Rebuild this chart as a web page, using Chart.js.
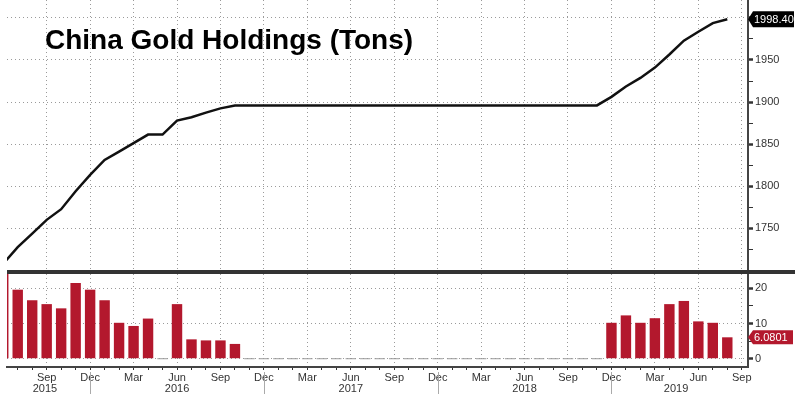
<!DOCTYPE html>
<html>
<head>
<meta charset="utf-8">
<script src="https://cdn.jsdelivr.net/npm/chart.js@4.4.0/dist/chart.umd.min.js"></script>
<style>
html, body { margin: 0; padding: 0; background: #fff; }
#wrap { position: relative; width: 800px; height: 394px; overflow: hidden; }
#top { position: absolute; left: 0; top: 0; }
#bot { position: absolute; left: 0; top: 274px; }
</style>
</head>
<body>
<div id="wrap">
  <canvas id="top" width="800" height="274"></canvas>
  <canvas id="bot" width="800" height="120"></canvas>
</div>
<script>
// month index 0 = Jun 2015, 50 = Aug 2019
const firstYear = 2015, firstMonth = 5;
const monthNames = ['Jan','Feb','Mar','Apr','May','Jun','Jul','Aug','Sep','Oct','Nov','Dec'];

// PBOC gold holdings, tons (line)
const goldTons = [
  1708.0, 1727.5, 1743.7, 1760.0, 1772.7, 1794.0, 1813.4, 1831.2, 1841.1, 1851.1,
  1861.3, 1861.3, 1877.9, 1881.9, 1887.5, 1892.5, 1896.0,
  1896.0, 1896.0, 1896.0, 1896.0, 1896.0, 1896.0, 1896.0, 1896.0, 1896.0, 1896.0,
  1896.0, 1896.0, 1896.0, 1896.0, 1896.0, 1896.0, 1896.0, 1896.0, 1896.0, 1896.0,
  1896.0, 1896.0, 1896.0, 1896.0, 1896.0,
  1906.2, 1918.5, 1928.7, 1941.0, 1956.5, 1973.0, 1983.6, 1993.8, 1998.4
];
// monthly change, tons (bars) - first one is the big Jun 2015 jump, clipped
const monthlyAdds = [
  604, 19.6, 16.6, 15.5, 14.3, 21.5, 19.6, 16.6, 10.2, 9.3,
  11.4, 0, 15.5, 5.5, 5.2, 5.2, 4.2,
  0, 0, 0, 0, 0, 0, 0, 0, 0, 0,
  0, 0, 0, 0, 0, 0, 0, 0, 0, 0,
  0, 0, 0, 0, 0,
  10.2, 12.3, 10.2, 11.5, 15.5, 16.4, 10.6, 10.2, 6.0801
];
const topTicks = [1725, 1750, 1775, 1800, 1825, 1850, 1875, 1900, 1925, 1950, 1975, 2000];
const botTicks = [0, 5, 10, 15, 20];
const titleText = 'China Gold Holdings (Tons)';

const xMin = 0.26, xMax = 51.43;
const AXIS_FONT = '"Liberation Sans", Arial, sans-serif';
const GRID = '#9a9a9a';
const RED = '#b3182d';
const NONE = 'rgba(0,0,0,0)';

function monthOf(i) { return (firstMonth + i) % 12; }
function isQuarter(i) { return monthOf(i) % 3 === 2; }
function tv(c) { return c.tick ? c.tick.value : NaN; }

function monthTicks(scale) {
  const t = [];
  for (let i = 1; i <= 51; i++) t.push({ value: i });
  scale.ticks = t;
}
function noPad(s) {
  s.paddingTop = 0; s.paddingBottom = 0; s.paddingLeft = 0; s.paddingRight = 0;
}

function badge(ctx, x, y, w, h, fill, text) {
  ctx.save();
  ctx.fillStyle = fill;
  ctx.beginPath();
  ctx.moveTo(x, y);
  ctx.lineTo(x + 5, y - h / 2);
  ctx.lineTo(x + w, y - h / 2);
  ctx.lineTo(x + w, y + h / 2);
  ctx.lineTo(x + 5, y + h / 2);
  ctx.closePath();
  ctx.fill();
  ctx.fillStyle = '#fff';
  ctx.font = '11px ' + AXIS_FONT;
  ctx.textAlign = 'left';
  ctx.textBaseline = 'middle';
  ctx.fillText(text, x + 6, y + 1);
  ctx.restore();
}

const topDecor = {
  id: 'topDecor',
  afterDraw(chart) {
    const ctx = chart.ctx, a = chart.chartArea;
    ctx.save();
    ctx.fillStyle = '#000';
    ctx.font = 'bold 28px "Liberation Sans", Arial, sans-serif';
    ctx.textBaseline = 'alphabetic';
    ctx.fillText(titleText, 45, 49);
    // panel separator
    ctx.fillStyle = '#333';
    ctx.fillRect(a.left, a.bottom, 795 - a.left, 4);
    ctx.restore();
    const last = goldTons[goldTons.length - 1];
    badge(ctx, a.right, chart.scales.y.getPixelForValue(last), 46, 16, '#000', last.toFixed(2));
  }
};

const botDecor = {
  id: 'botDecor',
  afterDraw(chart) {
    const ctx = chart.ctx, a = chart.chartArea, xs = chart.scales.x;
    ctx.save();
    ctx.font = '11px ' + AXIS_FONT;
    ctx.fillStyle = '#333';
    ctx.textAlign = 'center';
    ctx.textBaseline = 'middle';
    for (let y = 2015; y <= 2019; y++) {
      const jan = (y - firstYear) * 12 - firstMonth;
      const s = Math.max(xMin, jan - 0.5), e = Math.min(xMax, jan + 11.5);
      ctx.fillText(String(y), xs.getPixelForValue((s + e) / 2 - 0.5), 115);
    }
    ctx.strokeStyle = '#aaa';
    ctx.lineWidth = 1;
    for (let i = 1; i <= 51; i++) {
      if (monthOf(i) !== 11) continue;
      const px = Math.round(xs.getPixelForValue(i)) + 0.5;
      ctx.beginPath();
      ctx.moveTo(px, a.bottom + 5);
      ctx.lineTo(px, 120);
      ctx.stroke();
    }
    ctx.restore();
    const last = monthlyAdds[monthlyAdds.length - 1];
    badge(ctx, a.right, chart.scales.y.getPixelForValue(last), 45, 14, RED, last.toFixed(4));
  }
};

new Chart(document.getElementById('top'), {
  type: 'line',
  data: {
    datasets: [{
      data: goldTons.map((v, i) => ({ x: i, y: v })),
      borderColor: '#111',
      borderWidth: 2.5,
      pointRadius: 0,
      tension: 0
    }]
  },
  options: {
    responsive: false,
    animation: false,
    layout: { padding: { left: 7, top: 0, right: 0, bottom: 4 } },
    plugins: { legend: { display: false }, tooltip: { enabled: false } },
    scales: {
      x: {
        type: 'linear', min: xMin, max: xMax, offset: false,
        afterBuildTicks: monthTicks,
        afterFit: s => { s.height = 0; noPad(s); },
        ticks: { display: false, autoSkip: false },
        grid: { drawTicks: false, offset: false, color: c => isQuarter(tv(c)) ? GRID : NONE },
        border: { display: false, dash: [1, 3] }
      },
      y: {
        position: 'right', min: 1700.4, max: 2021.3,
        afterBuildTicks: s => { s.ticks = topTicks.map(v => ({ value: v })); },
        afterFit: s => { s.width = 52; noPad(s); },
        ticks: {
          autoSkip: false, padding: 2, color: '#333',
          font: { family: AXIS_FONT, size: 11 },
          callback: v => (v % 50 === 0 && v !== 2000) ? String(v) : ''
        },
        grid: {
          tickLength: 5,
          color: c => tv(c) % 50 === 0 ? GRID : NONE,
          tickColor: '#333',
          tickWidth: c => tv(c) % 50 === 0 ? 2.5 : 1
        },
        border: { display: true, color: '#444', width: 2, dash: [1, 3] }
      }
    }
  },
  plugins: [topDecor]
});

new Chart(document.getElementById('bot'), {
  type: 'bar',
  data: {
    datasets: [{
      data: monthlyAdds.map((v, i) => ({ x: i, y: v })),
      backgroundColor: c => (c.raw && c.raw.y === 0) ? '#9a9a9a' : RED,
      minBarLength: 1,
      barPercentage: 0.72,
      categoryPercentage: 1
    }]
  },
  options: {
    responsive: false,
    animation: false,
    layout: { padding: { left: 7, top: 0, right: 0, bottom: 0 } },
    plugins: { legend: { display: false }, tooltip: { enabled: false } },
    scales: {
      x: {
        type: 'linear', min: xMin, max: xMax, offset: false,
        afterBuildTicks: monthTicks,
        afterFit: s => { s.height = 27; noPad(s); },
        ticks: {
          autoSkip: false, maxRotation: 0, padding: 1, color: '#333',
          font: { family: AXIS_FONT, size: 11 },
          callback: v => isQuarter(v) ? monthNames[monthOf(v)] : ''
        },
        grid: {
          offset: false,
          tickLength: 3,
          color: c => isQuarter(tv(c)) ? GRID : NONE,
          tickColor: '#333'
        },
        border: { display: true, color: '#444', width: 2, dash: [1, 3] }
      },
      y: {
        position: 'right', min: -2.35, max: 24.05,
        afterBuildTicks: s => { s.ticks = botTicks.map(v => ({ value: v })); },
        afterFit: s => { s.width = 52; noPad(s); },
        ticks: {
          autoSkip: false, padding: 2, color: '#333',
          font: { family: AXIS_FONT, size: 11 },
          callback: v => v % 10 === 0 ? String(v) : ''
        },
        grid: {
          tickLength: 5,
          color: c => tv(c) % 10 === 0 ? GRID : NONE,
          tickColor: '#333',
          tickWidth: c => tv(c) % 10 === 0 ? 2.5 : 1
        },
        border: { display: true, color: '#444', width: 2, dash: [1, 3] }
      }
    }
  },
  plugins: [botDecor]
});
</script>
</body>
</html>
